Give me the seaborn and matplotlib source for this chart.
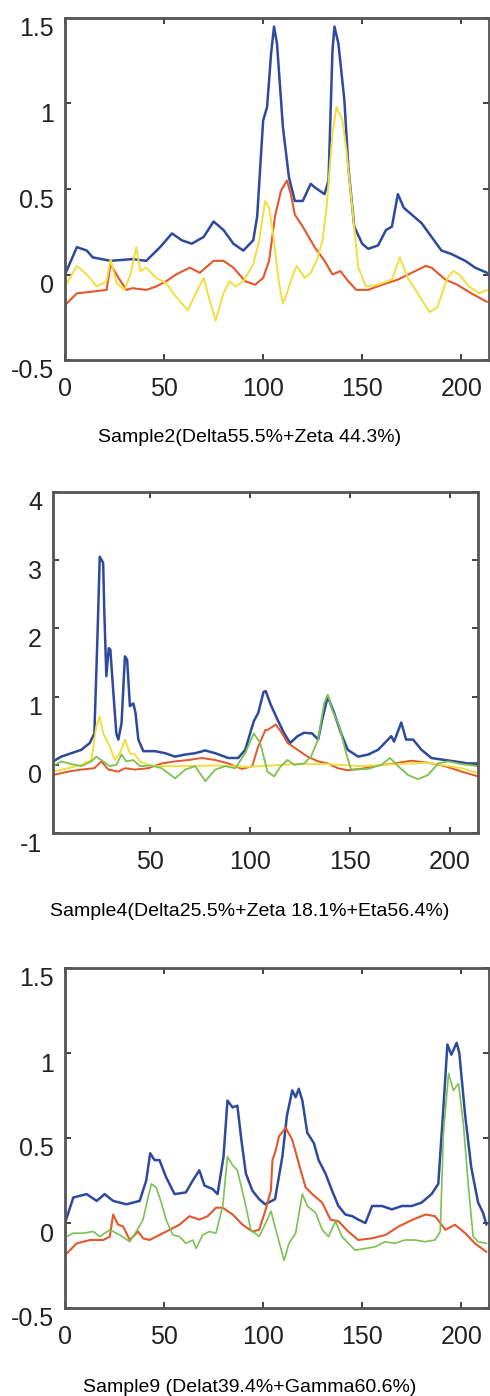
import numpy as np
import pandas as pd
import matplotlib
matplotlib.use("Agg")
import matplotlib.pyplot as plt
import matplotlib.transforms as mtransforms
import seaborn as sns

# ---- sample 2 : blue / red / yellow ----
s2_blue_x = [0, 6, 11, 14, 23, 34, 41, 48, 54, 59, 64, 70, 75, 80, 85, 90, 95, 97, 100, 102, 104, 105.5, 107, 110, 113, 116, 120, 124, 126, 131, 133, 135, 136, 138, 141, 143, 146, 150, 153, 158, 162, 165, 168, 171, 175, 180, 185, 190, 195, 202, 207, 213]
s2_blue_y = [0.0, 0.16, 0.14, 0.10, 0.08, 0.09, 0.08, 0.16, 0.24, 0.20, 0.18, 0.22, 0.31, 0.26, 0.18, 0.14, 0.20, 0.34, 0.90, 0.98, 1.29, 1.45, 1.35, 0.86, 0.57, 0.43, 0.43, 0.53, 0.51, 0.47, 0.55, 1.31, 1.45, 1.35, 1.02, 0.63, 0.28, 0.18, 0.15, 0.17, 0.26, 0.28, 0.47, 0.39, 0.35, 0.30, 0.22, 0.14, 0.12, 0.08, 0.04, 0.01]
s2_red_x = [0, 6, 14, 21, 23, 27, 31, 34, 41, 46, 51, 56, 63, 68, 75, 80, 85, 91, 96, 100, 103, 106, 109, 112, 114, 116, 120, 123, 126, 131, 135, 139, 143, 147, 153, 160, 168, 175, 182, 185, 192, 198, 205, 213]
s2_red_y = [-0.18, -0.11, -0.10, -0.09, 0.06, -0.02, -0.09, -0.08, -0.09, -0.07, -0.04, 0.00, 0.04, 0.01, 0.08, 0.08, 0.04, -0.04, -0.06, -0.02, 0.08, 0.34, 0.49, 0.55, 0.47, 0.35, 0.28, 0.22, 0.16, 0.08, 0.00, 0.02, -0.04, -0.09, -0.09, -0.06, -0.03, 0.01, 0.05, 0.04, -0.03, -0.06, -0.11, -0.16]
s2_yellow_x = [0, 6, 11, 16, 21, 23, 26, 30, 33, 36, 38, 41, 46, 51, 56, 62, 66, 70, 73, 76, 80, 83, 86, 90, 95, 98, 101, 103, 105, 108, 110, 112, 115, 117, 121, 124, 127, 130, 132, 135, 137, 140, 142, 145, 148, 152, 158, 165, 169, 173, 178, 184, 188, 193, 196, 199, 204, 209, 213]
s2_yellow_y = [-0.07, 0.05, 0.00, -0.07, -0.04, 0.09, -0.05, -0.09, 0.00, 0.16, 0.02, 0.04, -0.02, -0.05, -0.13, -0.21, -0.11, -0.02, -0.15, -0.27, -0.11, -0.04, -0.07, -0.04, 0.06, 0.20, 0.43, 0.39, 0.24, -0.05, -0.17, -0.11, 0.00, 0.05, -0.02, 0.01, 0.08, 0.20, 0.39, 0.82, 0.98, 0.90, 0.73, 0.39, 0.04, -0.07, -0.06, -0.03, 0.10, -0.02, -0.11, -0.22, -0.19, -0.02, 0.02, 0.00, -0.07, -0.11, -0.09]

# ---- sample 4 : blue / red / yellow / green ----
s4_blue_x = [1.3, 5.4, 10.5, 15.5, 19.7, 22, 23.5, 24.7, 26.4, 27, 28, 29.2, 30, 31.4, 33, 34, 35.6, 37.3, 38.4, 39.8, 41.5, 42.6, 44, 46.5, 52.3, 57.4, 62.4, 67.4, 72.4, 77.5, 82.5, 89, 94, 97.5, 101.8, 104, 106.7, 107.8, 110, 113.7, 117, 120, 123.7, 127, 131, 134, 136, 138.8, 142, 145.5, 148.8, 154, 159, 164, 168, 170.6, 172, 175.6, 178, 181.5, 185.7, 190.7, 197.4, 202.4, 209, 214]
s4_blue_y = [0.05, 0.12, 0.17, 0.22, 0.32, 0.46, 1.83, 3.05, 2.96, 2.22, 1.30, 1.71, 1.69, 1.10, 0.46, 0.37, 0.61, 1.59, 1.54, 0.86, 0.90, 0.76, 0.37, 0.20, 0.20, 0.17, 0.12, 0.15, 0.17, 0.21, 0.17, 0.10, 0.10, 0.22, 0.64, 0.76, 1.07, 1.08, 0.90, 0.66, 0.46, 0.32, 0.42, 0.47, 0.46, 0.37, 0.66, 1.00, 0.76, 0.46, 0.22, 0.12, 0.15, 0.22, 0.34, 0.42, 0.34, 0.62, 0.37, 0.37, 0.22, 0.10, 0.07, 0.05, 0.02, 0.02]
s4_red_x = [1.3, 8.8, 15.5, 22, 25.5, 29, 34, 37.3, 42.3, 49, 55.7, 62.4, 69, 75.8, 82.5, 89, 95.9, 101, 104, 107.6, 108.6, 112.8, 115.3, 118.7, 123.7, 128.7, 134, 138.8, 143.8, 148.8, 155.5, 164, 172, 180.7, 189, 197.4, 205.8, 214]
s4_red_y = [-0.15, -0.10, -0.07, -0.05, 0.05, -0.07, -0.10, -0.05, -0.07, -0.05, 0.02, 0.05, 0.07, 0.10, 0.07, 0.02, -0.06, -0.02, 0.27, 0.51, 0.51, 0.59, 0.49, 0.32, 0.22, 0.12, 0.05, 0.02, -0.05, -0.08, -0.06, -0.01, 0.02, 0.06, 0.03, -0.02, -0.10, -0.17]
s4_yellow_x = [1.3, 8.8, 15.5, 20.5, 23, 24.7, 26.4, 28, 29.7, 32.2, 34.8, 37.3, 39.8, 42.3, 44.8, 50.7, 65.7, 82.5, 99, 105, 122, 138.8, 155.5, 172, 189, 205.8, 214]
s4_yellow_y = [-0.10, -0.05, 0.00, 0.07, 0.56, 0.71, 0.46, 0.37, 0.27, 0.07, 0.17, 0.37, 0.17, 0.15, 0.05, -0.02, -0.02, -0.01, -0.03, -0.02, 0.01, 0.01, -0.02, 0.01, 0.03, -0.05, -0.12]
s4_green_x = [1.3, 5.4, 10.5, 15.5, 20.5, 23, 26.4, 29.7, 33, 35.6, 38, 41.5, 44.8, 50.7, 55.7, 62.4, 67.4, 72.4, 77.5, 82.5, 87.5, 92.5, 97.5, 101.8, 105, 107.6, 108.6, 112, 115.3, 118.7, 122, 127, 130.4, 134, 137, 138.8, 141, 144.6, 148, 150.5, 159, 165.6, 170, 174, 179, 184, 189, 194, 199, 205.8, 214]
s4_green_y = [-0.02, 0.05, 0.01, -0.02, 0.05, 0.12, 0.05, -0.02, 0.00, 0.15, 0.05, 0.07, -0.02, -0.01, -0.05, -0.20, -0.07, -0.02, -0.24, -0.07, -0.02, -0.05, 0.17, 0.46, 0.32, 0.02, -0.10, -0.17, -0.02, 0.07, 0.00, 0.02, 0.12, 0.37, 0.90, 1.03, 0.81, 0.56, 0.17, -0.07, -0.06, 0.00, 0.10, -0.02, -0.15, -0.21, -0.15, 0.02, 0.05, 0.01, -0.02]

# ---- sample 9 : blue / red / green ----
s9_blue_x = [0, 4.2, 10.9, 16, 20, 24.3, 31, 37.7, 41, 43, 45.2, 47.7, 51, 55.3, 61, 64.5, 67.8, 70.4, 74.5, 77, 80, 82, 84.6, 87, 89, 91.3, 94.6, 98, 101, 106, 109.7, 112, 114.7, 116.4, 118, 119.8, 122.3, 125.6, 128, 131.5, 134.8, 138, 141.5, 145, 148, 151.6, 155, 160, 165, 170, 175, 180, 185, 188.4, 191, 193, 195, 197.7, 199, 202, 205, 208.5, 211, 212.7]
s9_blue_y = [0.00, 0.15, 0.17, 0.13, 0.17, 0.13, 0.11, 0.13, 0.25, 0.41, 0.37, 0.37, 0.27, 0.17, 0.18, 0.25, 0.31, 0.22, 0.20, 0.17, 0.39, 0.72, 0.68, 0.69, 0.49, 0.29, 0.19, 0.14, 0.11, 0.14, 0.39, 0.63, 0.78, 0.74, 0.79, 0.72, 0.53, 0.47, 0.37, 0.29, 0.19, 0.10, 0.05, 0.04, 0.02, 0.00, 0.10, 0.10, 0.08, 0.10, 0.10, 0.12, 0.17, 0.23, 0.68, 1.05, 0.99, 1.06, 1.00, 0.63, 0.33, 0.12, 0.06, -0.01]
s9_red_x = [0.8, 5.9, 12.6, 19.3, 22.6, 24.3, 26.8, 29.3, 32.7, 36.9, 39.4, 42.7, 47.7, 52.8, 57.8, 62.8, 67.8, 72, 76.2, 79.6, 84.6, 89.6, 94.6, 98, 101.3, 103.9, 104.7, 106.4, 108, 111.4, 114.7, 118, 121.4, 124.8, 129.8, 134, 138, 143, 148, 155, 161.8, 168.5, 175.5, 182, 186.8, 192, 196.8, 202, 206.9, 212.7]
s9_red_y = [-0.18, -0.12, -0.10, -0.10, -0.08, 0.05, -0.01, -0.02, -0.10, -0.05, -0.09, -0.10, -0.07, -0.04, -0.01, 0.04, 0.02, 0.04, 0.09, 0.09, 0.05, -0.01, -0.05, -0.04, 0.08, 0.19, 0.37, 0.43, 0.51, 0.56, 0.49, 0.35, 0.21, 0.17, 0.12, 0.02, 0.01, -0.05, -0.10, -0.09, -0.07, -0.02, 0.02, 0.05, 0.04, -0.04, -0.01, -0.06, -0.12, -0.17]
s9_green_x = [0.8, 4.2, 9.2, 14.2, 17.6, 22.6, 27.6, 32.7, 36, 39.4, 41.9, 43.6, 46, 48.6, 51, 54.4, 57.8, 61, 64.5, 66.2, 69.5, 72.9, 76.2, 79.6, 82, 84.6, 87, 90.5, 93.8, 98, 101.3, 104, 106.4, 110.6, 113, 116.4, 119.8, 122.3, 126.5, 129.8, 133, 136.5, 139.8, 143, 146.5, 151.5, 156.5, 161.5, 166.5, 171.5, 176.6, 181.6, 186.8, 189.4, 191, 193.6, 196, 198.6, 201, 203.5, 206, 208.5, 212.7]
s9_green_y = [-0.08, -0.06, -0.06, -0.05, -0.08, -0.04, -0.07, -0.11, -0.05, 0.02, 0.15, 0.23, 0.21, 0.12, 0.02, -0.07, -0.08, -0.12, -0.10, -0.15, -0.07, -0.05, -0.06, 0.10, 0.39, 0.34, 0.31, 0.14, -0.04, -0.08, 0.00, 0.07, -0.04, -0.22, -0.12, -0.06, 0.17, 0.10, 0.06, -0.04, -0.08, 0.01, -0.08, -0.12, -0.16, -0.15, -0.14, -0.11, -0.12, -0.10, -0.10, -0.11, -0.10, -0.05, 0.53, 0.88, 0.78, 0.82, 0.59, 0.23, -0.08, -0.11, -0.12]

captions = ["Sample2(Delta55.5%+Zeta 44.3%)",
            "Sample4(Delta25.5%+Zeta 18.1%+Eta56.4%)",
            "Sample9 (Delat39.4%+Gamma60.6%)"]

BLUE = "#2d4a9c"
RED = "#e2572c"
YELLOW = "#f3de3c"
GREEN = "#7cc152"

sns.set_style("ticks")
plt.rcParams['font.family'] = ['Liberation Sans', 'DejaVu Sans']

fig = plt.figure(figsize=(4.9, 13.96), dpi=100)

W, H = 490.0, 1396.0
def add_ax(left, right, top, bottom):
    return fig.add_axes([left / W, 1 - bottom / H, (right - left) / W, (bottom - top) / H])

ax1 = add_ax(65, 489, 18, 360)
ax2 = add_ax(53, 478, 492, 833)
ax3 = add_ax(65, 489, 968, 1308)

def draw(ax, series):
    for xs, ys, col, lw in series:
        sns.lineplot(x=xs, y=ys, color=col, linewidth=lw, ax=ax, sort=False, estimator=None)

draw(ax1, [(s2_blue_x, s2_blue_y, BLUE, 1.8), (s2_red_x, s2_red_y, RED, 1.5), (s2_yellow_x, s2_yellow_y, YELLOW, 1.4)])
draw(ax2, [(s4_blue_x, s4_blue_y, BLUE, 1.8), (s4_red_x, s4_red_y, RED, 1.4), (s4_yellow_x, s4_yellow_y, YELLOW, 1.4), (s4_green_x, s4_green_y, GREEN, 1.3)])
draw(ax3, [(s9_blue_x, s9_blue_y, BLUE, 1.8), (s9_red_x, s9_red_y, RED, 1.5), (s9_green_x, s9_green_y, GREEN, 1.2)])

def style(ax, xlim, ylim, xt, yt, ylabels):
    ax.set_xlim(*xlim)
    ax.set_ylim(*ylim)
    ax.set_xticks(xt)
    ax.set_xticklabels([str(t) for t in xt])
    ax.set_yticks(yt)
    ax.set_yticklabels(ylabels)
    ax.set_xlabel("")
    ax.set_ylabel("")
    ax.tick_params(direction="in", top=True, right=True, length=4, width=1.2,
                   colors="#222222", labelsize=18, labelcolor="#222222")
    ax.tick_params(axis="x", pad=12)
    ax.tick_params(axis="y", pad=8)
    for sp in ax.spines.values():
        sp.set_visible(True)
        sp.set_linewidth(2)
        sp.set_color("#555555")
    off = mtransforms.ScaledTranslation(0, -9 / 100.0, fig.dpi_scale_trans)
    for lab in ax.get_yticklabels():
        lab.set_transform(lab.get_transform() + off)

style(ax1, (0, 214), (-0.5, 1.5), [0, 50, 100, 150, 200], [-0.5, 0, 0.5, 1, 1.5], ["-0.5", "0", "0.5", "1", "1.5"])
style(ax2, (1.3, 214), (-1, 4), [50, 100, 150, 200], [-1, 0, 1, 2, 3, 4], ["-1", "0", "1", "2", "3", "4"])
style(ax3, (0, 214), (-0.5, 1.5), [0, 50, 100, 150, 200], [-0.5, 0, 0.5, 1, 1.5], ["-0.5", "0", "0.5", "1", "1.5"])

for ycap, txt in zip([437, 912, 1388], captions):
    fig.text(250 / W, 1 - ycap / H, txt, ha="center", va="center", fontsize=14,
             family=['Liberation Sans', 'DejaVu Sans'], color="black")

fig.savefig("out.png", dpi=100)
